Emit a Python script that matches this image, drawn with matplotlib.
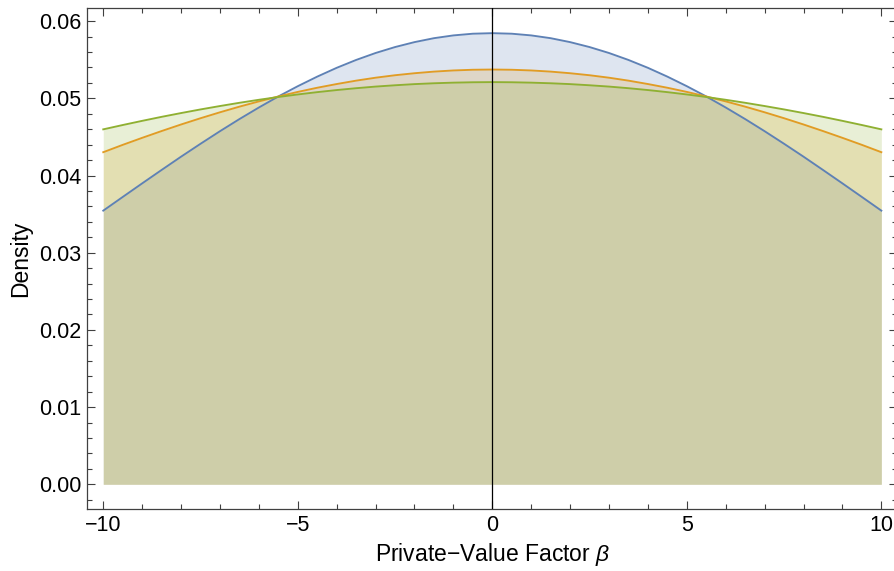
import matplotlib
matplotlib.use("Agg")
import matplotlib.pyplot as plt
from matplotlib.ticker import MultipleLocator, FormatStrFormatter

plt.rcParams['font.family'] = ['Liberation Sans', 'DejaVu Sans']
plt.rcParams['mathtext.fontset'] = 'custom'
plt.rcParams['mathtext.it'] = 'Liberation Sans:italic'
plt.rcParams['mathtext.rm'] = 'Liberation Sans'

# beta values for the right half (0 .. 10, step 0.5); curves are symmetric
beta_half = [0, 0.5, 1, 1.5, 2, 2.5, 3, 3.5, 4, 4.5, 5, 5.5, 6, 6.5, 7, 7.5,
             8, 8.5, 9, 9.5, 10]
blue_half = [0.05844, 0.05837, 0.05815, 0.05779, 0.05728, 0.05664, 0.05587,
             0.05497, 0.05395, 0.05281, 0.05157, 0.05024, 0.04881, 0.04731,
             0.04574, 0.04411, 0.04244, 0.04072, 0.03898, 0.03722, 0.03545]
orange_half = [0.05373, 0.05370, 0.05361, 0.05346, 0.05325, 0.05299, 0.05267,
               0.05229, 0.05185, 0.05137, 0.05083, 0.05024, 0.04960, 0.04892,
               0.04819, 0.04742, 0.04661, 0.04576, 0.04488, 0.04397, 0.04302]
green_half = [0.05210, 0.05208, 0.05203, 0.05195, 0.05184, 0.05169, 0.05152,
              0.05131, 0.05107, 0.05080, 0.05050, 0.05017, 0.04981, 0.04942,
              0.04900, 0.04856, 0.04809, 0.04760, 0.04708, 0.04654, 0.04598]

beta = [-b for b in beta_half[::-1]] + beta_half[1:]
density_blue = blue_half[::-1] + blue_half[1:]
density_orange = orange_half[::-1] + orange_half[1:]
density_green = green_half[::-1] + green_half[1:]

series = [density_blue, density_orange, density_green]
colors = ['#5E81B5', '#E19C24', '#8FB032']

fig = plt.figure(figsize=(8.94, 5.71), dpi=100)
ax = fig.add_axes([87.3 / 894, 62 / 571, 810 / 894, 501 / 571])

for ys, c in zip(series, colors):
    ax.fill_between(beta, 0, ys, color=c, alpha=0.2, linewidth=0, zorder=1)
for ys, c in zip(series, colors):
    ax.plot(beta, ys, color=c, linewidth=1.35, zorder=2)

ax.axvline(0, color='black', linewidth=0.9, zorder=3)

ax.set_xlim(-10.41, 10.41)
ax.set_ylim(-0.0032, 0.0617)

ax.xaxis.set_major_locator(MultipleLocator(5))
ax.xaxis.set_minor_locator(MultipleLocator(1))
ax.yaxis.set_major_locator(MultipleLocator(0.01))
ax.yaxis.set_minor_locator(MultipleLocator(0.002))
ax.yaxis.set_major_formatter(FormatStrFormatter('%.2f'))

ax.tick_params(which='both', direction='in', top=True, right=True,
               color='#404040', width=0.8)
ax.tick_params(which='major', length=6, labelsize=15.5, pad=4)
ax.tick_params(which='minor', length=3.3)
for s in ax.spines.values():
    s.set_color('#404040')
    s.set_linewidth(0.9)

ax.set_xlabel(r'Private$-$Value Factor $\beta$', fontsize=16.5, labelpad=4)
ax.set_ylabel('Density', fontsize=16.5, labelpad=5)

fig.savefig('out.png', dpi=100)
